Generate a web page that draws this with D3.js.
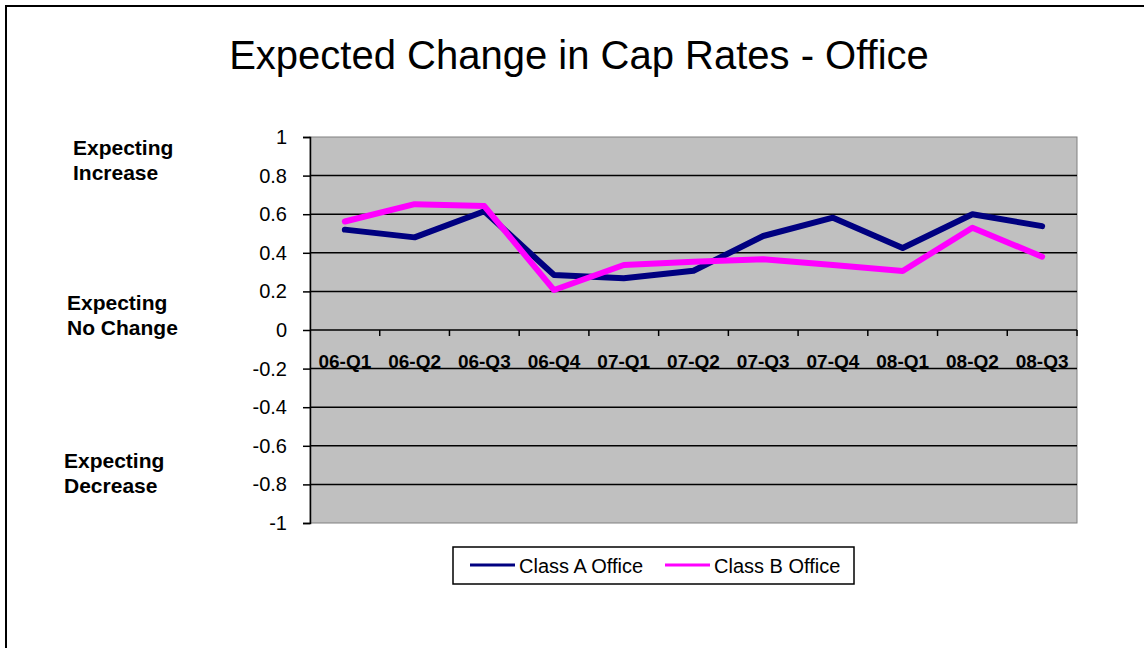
<!DOCTYPE html>
<html>
<head>
<meta charset="utf-8">
<script src="https://cdn.jsdelivr.net/npm/d3@7"></script>
<style>
  body { margin: 0; background: #fff; }
  svg { display: block; font-family: Arial, "Liberation Sans", sans-serif; }
</style>
</head>
<body>
<svg id="chart" width="1144" height="648"></svg>
<script>
// values
const quarters = ["06-Q1", "06-Q2", "06-Q3", "06-Q4", "07-Q1", "07-Q2", "07-Q3", "07-Q4", "08-Q1", "08-Q2", "08-Q3"];
const classA = [0.52, 0.48, 0.615, 0.285, 0.268, 0.307, 0.487, 0.582, 0.425, 0.60, 0.538];
const classB = [0.562, 0.652, 0.642, 0.207, 0.337, 0.354, 0.366, 0.337, 0.306, 0.53, 0.38];
const yTicks = [1, 0.8, 0.6, 0.4, 0.2, 0, -0.2, -0.4, -0.6, -0.8, -1];
const seriesNames = ["Class A Office", "Class B Office"];
const seriesColors = ["#000080", "#ff00ff"];
const sideLabels = [
    { lines: ["Expecting", "Increase"], value: 0.9 },
    { lines: ["Expecting", "No Change"], value: 0.1 },
    { lines: ["Expecting", "Decrease"], value: -0.72 }
];

const svg = d3.select("#chart");

// plot area box
const plotLeft = 310, plotRight = 1077, plotTop = 137, plotBottom = 523;

const x = d3.scaleBand().domain(quarters).range([plotLeft, plotRight]).padding(0);
const y = d3.scaleLinear().domain([-1, 1]).range([plotBottom, plotTop]);

// outer frame, running past the right and bottom edges like the picture
svg.append("rect")
    .attr("x", 6).attr("y", 6)
    .attr("width", 1200).attr("height", 700)
    .attr("fill", "none")
    .attr("stroke", "#000")
    .attr("stroke-width", 2);

svg.append("text")
    .attr("x", 579).attr("y", 69)
    .attr("text-anchor", "middle")
    .attr("font-size", 40)
    .text("Expected Change in Cap Rates - Office");

// grey plot background
svg.append("rect")
    .attr("x", plotLeft).attr("y", plotTop)
    .attr("width", plotRight - plotLeft).attr("height", plotBottom - plotTop)
    .attr("fill", "#c0c0c0")
    .attr("stroke", "#808080")
    .attr("stroke-width", 1);

// horizontal gridlines
svg.append("g")
    .selectAll("line")
    .data(yTicks.filter(d => d !== 1 && d !== -1))
    .join("line")
    .attr("x1", plotLeft).attr("x2", plotRight)
    .attr("y1", d => y(d)).attr("y2", d => y(d))
    .attr("stroke", "#000")
    .attr("stroke-width", 1.5);

// y axis
const yAxis = svg.append("g")
    .attr("transform", `translate(${plotLeft},0)`)
    .call(d3.axisLeft(y).tickValues(yTicks).tickSize(7).tickPadding(16)
        .tickFormat(d => String(+d.toFixed(1))));
yAxis.select(".domain").attr("stroke", "#000").attr("stroke-width", 1.5);
yAxis.selectAll(".tick line").attr("stroke", "#000").attr("stroke-width", 1.5);
yAxis.selectAll(".tick text")
    .attr("font-family", "Arial, 'Liberation Sans', sans-serif")
    .attr("font-size", 20)
    .attr("fill", "#000");

// x axis ticks on the zero line, at the category boundaries
svg.append("g")
    .selectAll("line")
    .data(quarters.slice(1).concat(["end"]))
    .join("line")
    .attr("x1", (d, i) => plotLeft + x.bandwidth() * (i + 1))
    .attr("x2", (d, i) => plotLeft + x.bandwidth() * (i + 1))
    .attr("y1", y(0)).attr("y2", y(0) + 6)
    .attr("stroke", "#000")
    .attr("stroke-width", 1.5);

svg.append("g")
    .selectAll("text")
    .data(quarters)
    .join("text")
    .attr("x", d => x(d) + x.bandwidth() / 2)
    .attr("y", y(-0.2) - 1)
    .attr("text-anchor", "middle")
    .attr("font-weight", "bold")
    .attr("font-size", 19)
    .text(d => d);

// series lines
const line = d3.line()
    .x((d, i) => x(quarters[i]) + x.bandwidth() / 2)
    .y(d => y(d));

svg.append("g")
    .selectAll("path")
    .data([classA, classB])
    .join("path")
    .attr("d", line)
    .attr("fill", "none")
    .attr("stroke", (d, i) => seriesColors[i])
    .attr("stroke-width", 6)
    .attr("stroke-linejoin", "round")
    .attr("stroke-linecap", "round");

// left side annotations
const side = svg.append("g")
    .attr("font-weight", "bold")
    .attr("font-size", 21);
sideLabels.forEach((s, k) => {
    const t = side.append("text")
        .attr("x", [73, 67, 64][k])
        .attr("y", y(s.value) - 1);
    s.lines.forEach((ln, j) => {
        t.append("tspan")
            .attr("x", [73, 67, 64][k])
            .attr("dy", j === 0 ? 0 : 25)
            .text(ln);
    });
});

// legend
const legend = svg.append("g");
legend.append("rect")
    .attr("x", 453).attr("y", 547)
    .attr("width", 401).attr("height", 37)
    .attr("fill", "#fff")
    .attr("stroke", "#000")
    .attr("stroke-width", 1.5);

const legendX = [470, 665];
const items = legend.selectAll("g.item")
    .data(seriesNames)
    .join("g")
    .attr("class", "item")
    .attr("transform", (d, i) => `translate(${legendX[i]},565)`);
items.append("line")
    .attr("x1", 0).attr("x2", 45)
    .attr("stroke", (d, i) => seriesColors[i])
    .attr("stroke-width", 3);
items.append("text")
    .attr("x", 49).attr("y", 8)
    .attr("font-size", 20)
    .text(d => d);
</script>
</body>
</html>
